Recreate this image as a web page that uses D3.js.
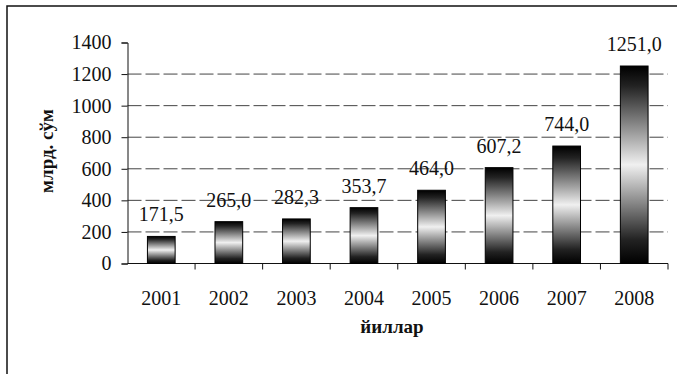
<!DOCTYPE html>
<html>
<head>
<meta charset="utf-8">
<script src="https://cdn.jsdelivr.net/npm/d3@7"></script>
<style>
  body { margin: 0; background: #fff; }
  text { font-family: "Liberation Serif", "DejaVu Serif", serif; fill: #111; }
</style>
</head>
<body>
<div id="vis1"></div>
<script>
const FRAME_WIDTH = 677;
const FRAME_HEIGHT = 374;

// data
const years = ["2001", "2002", "2003", "2004", "2005", "2006", "2007", "2008"];
const values = [171.5, 265.0, 282.3, 353.7, 464.0, 607.2, 744.0, 1251.0];
const labels = ["171,5", "265,0", "282,3", "353,7", "464,0", "607,2", "744,0", "1251,0"];
const yTicks = [0, 200, 400, 600, 800, 1000, 1200, 1400];

const svg = d3.select("#vis1")
  .append("svg")
  .attr("width", FRAME_WIDTH)
  .attr("height", FRAME_HEIGHT);

// bar gradient: dark top & bottom, light middle
const grad = svg.append("defs").append("linearGradient")
  .attr("id", "barGrad")
  .attr("x1", 0).attr("y1", 0).attr("x2", 0).attr("y2", 1);
grad.append("stop").attr("offset", "0%").attr("stop-color", "#000");
grad.append("stop").attr("offset", "10%").attr("stop-color", "#222");
grad.append("stop").attr("offset", "50%").attr("stop-color", "#f0f0f0");
grad.append("stop").attr("offset", "88%").attr("stop-color", "#222");
grad.append("stop").attr("offset", "100%").attr("stop-color", "#000");

// outer frame (left and top edges visible)
svg.append("path")
  .attr("d", `M7,${FRAME_HEIGHT} L7,6 L${FRAME_WIDTH},6`)
  .attr("fill", "none")
  .attr("stroke", "#111")
  .attr("stroke-width", 1.5);

const xScale = d3.scaleBand()
  .domain(years)
  .range([127.5, 668])
  .padding(0);

const yScale = d3.scaleLinear()
  .domain([0, 1400])
  .range([263.5, 42.5]);

// grid lines
svg.append("g")
  .selectAll("line")
  .data(yTicks.filter(d => d > 0 && d < 1400))
  .enter()
  .append("line")
  .attr("x1", 127.5)
  .attr("x2", 668)
  .attr("y1", d => yScale(d))
  .attr("y2", d => yScale(d))
  .attr("stroke", "#444")
  .attr("stroke-width", 1)
  .attr("stroke-dasharray", "14,4");

// y axis
const yAxis = d3.axisLeft(yScale)
  .tickValues(yTicks)
  .tickSize(6)
  .tickPadding(10)
  .tickFormat(d3.format("d"));

svg.append("g")
  .attr("transform", "translate(127.5,0)")
  .call(yAxis)
  .call(g => g.select(".domain").attr("stroke", "#111"))
  .call(g => g.selectAll(".tick line").attr("stroke", "#111"))
  .call(g => g.selectAll(".tick text")
    .attr("font-family", "Liberation Serif")
    .attr("font-size", "20px")
    .attr("fill", "#111"));

// x axis with ticks on band boundaries
const xAxisG = svg.append("g")
  .attr("transform", "translate(0,263.5)");

xAxisG.append("line")
  .attr("x1", 127.5).attr("x2", 668)
  .attr("stroke", "#111");

xAxisG.selectAll(".xtick")
  .data(years)
  .enter()
  .append("line")
  .attr("class", "xtick")
  .attr("x1", d => xScale(d) + xScale.bandwidth())
  .attr("x2", d => xScale(d) + xScale.bandwidth())
  .attr("y1", 0).attr("y2", 6)
  .attr("stroke", "#111");

xAxisG.selectAll(".xlabel")
  .data(years)
  .enter()
  .append("text")
  .attr("class", "xlabel")
  .attr("x", d => xScale(d) + xScale.bandwidth() / 2)
  .attr("y", 41)
  .attr("text-anchor", "middle")
  .attr("font-size", "20px")
  .text(d => d);

// bars
const barW = xScale.bandwidth() * 0.41;
svg.append("g")
  .selectAll("rect")
  .data(values)
  .enter()
  .append("rect")
  .attr("x", (d, i) => xScale(years[i]) + xScale.bandwidth() / 2 - barW / 2)
  .attr("y", d => yScale(d))
  .attr("width", barW)
  .attr("height", d => yScale(0) - yScale(d))
  .attr("fill", "url(#barGrad)")
  .attr("stroke", "#000")
  .attr("stroke-width", 1);

// value labels
svg.append("g")
  .selectAll("text")
  .data(values)
  .enter()
  .append("text")
  .attr("x", (d, i) => xScale(years[i]) + xScale.bandwidth() / 2)
  .attr("y", d => yScale(d) - 15)
  .attr("text-anchor", "middle")
  .attr("font-size", "20px")
  .text((d, i) => labels[i]);

// axis titles
svg.append("text")
  .attr("transform", "translate(53,151) rotate(-90)")
  .attr("text-anchor", "middle")
  .attr("font-size", "19px")
  .attr("font-weight", "bold")
  .text("млрд. сўм");

svg.append("text")
  .attr("x", 392)
  .attr("y", 333)
  .attr("text-anchor", "middle")
  .attr("font-size", "19px")
  .attr("font-weight", "bold")
  .text("йиллар");
</script>
</body>
</html>
